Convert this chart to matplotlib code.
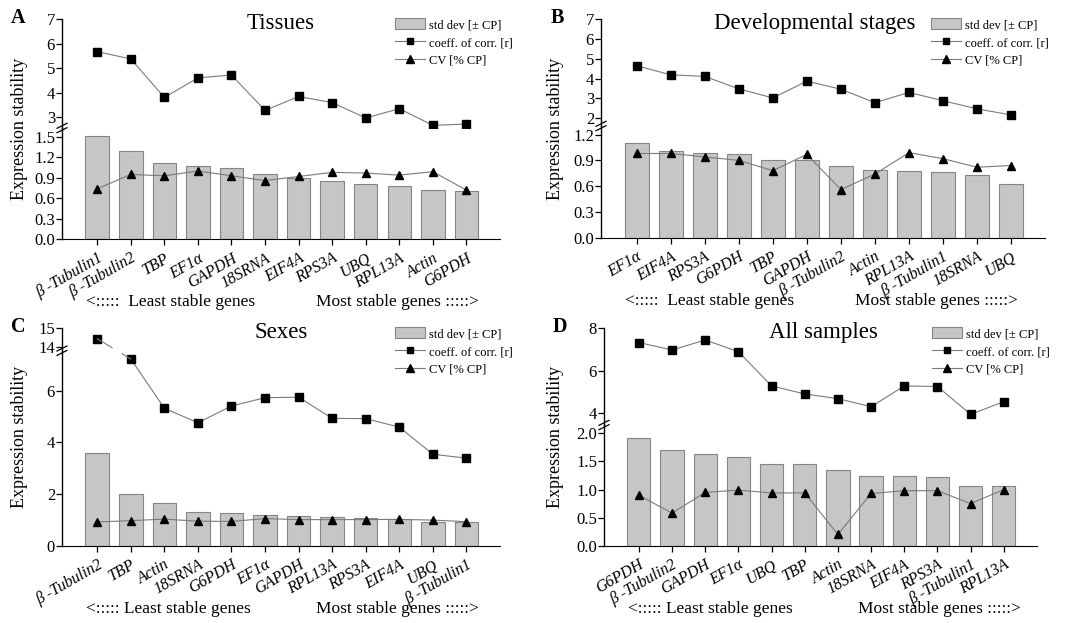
import matplotlib.pyplot as plt
from matplotlib.lines import Line2D
from matplotlib.patches import Patch

plt.rcParams["font.family"] = ["Liberation Serif", "DejaVu Serif"]

W, H = 1080, 623

# A: tissues
genes_a = ["β -Tubulin1", "β -Tubulin2", "TBP", "EF1α", "GAPDH", "18SRNA",
           "EIF4A", "RPS3A", "UBQ", "RPL13A", "Actin", "G6PDH"]
std_a = [1.52, 1.30, 1.12, 1.08, 1.04, 0.96, 0.90, 0.85, 0.81, 0.78, 0.72, 0.71]
corr_a = [5.67, 5.38, 3.80, 4.60, 4.72, 3.27, 3.84, 3.59, 2.96, 3.34, 2.66, 2.71]
cv_a = [0.74, 0.95, 0.93, 1.00, 0.93, 0.86, 0.92, 0.98, 0.97, 0.94, 0.99, 0.72]

# B: developmental stages
genes_b = ["EF1α", "EIF4A", "RPS3A", "G6PDH", "TBP", "GAPDH", "β -Tubulin2",
           "Actin", "RPL13A", "β -Tubulin1", "18SRNA", "UBQ"]
std_b = [1.10, 1.01, 0.98, 0.97, 0.91, 0.90, 0.84, 0.79, 0.78, 0.77, 0.73, 0.63]
corr_b = [4.65, 4.19, 4.11, 3.48, 3.02, 3.87, 3.46, 2.78, 3.30, 2.88, 2.47, 2.16]
cv_b = [0.98, 0.98, 0.94, 0.90, 0.78, 0.97, 0.56, 0.74, 0.99, 0.92, 0.82, 0.84]

# C: sexes
genes_c = ["β -Tubulin2", "TBP", "Actin", "18SRNA", "G6PDH", "EF1α", "GAPDH",
           "RPL13A", "RPS3A", "EIF4A", "UBQ", "β -Tubulin1"]
std_c = [3.60, 2.00, 1.64, 1.29, 1.25, 1.20, 1.14, 1.10, 1.08, 1.02, 0.93, 0.90]
corr_c = [14.44, 7.23, 5.32, 4.76, 5.41, 5.73, 5.75, 4.93, 4.92, 4.59, 3.54, 3.39]
cv_c = [0.92, 0.97, 1.03, 0.95, 0.94, 1.05, 1.01, 1.01, 1.01, 1.02, 0.99, 0.93]

# D: all samples
genes_d = ["G6PDH", "β -Tubulin2", "GAPDH", "EF1α", "UBQ", "TBP", "Actin",
           "18SRNA", "EIF4A", "RPS3A", "β -Tubulin1", "RPL13A"]
std_d = [1.92, 1.70, 1.63, 1.58, 1.45, 1.45, 1.34, 1.25, 1.24, 1.23, 1.06, 1.06]
corr_d = [7.33, 6.98, 7.45, 6.90, 5.29, 4.91, 4.69, 4.31, 5.29, 5.26, 3.95, 4.55]
cv_d = [0.90, 0.58, 0.95, 0.99, 0.94, 0.94, 0.20, 0.93, 0.98, 0.98, 0.75, 1.00]

BAR_FC = "#c6c6c6"
BAR_EC = "#858585"
LINE_C = "#7a7a7a"
MARK = dict(mfc="black", mec="black")


def fx(px):
    return px / W


def fy(py):
    return 1 - py / H


def runs(mask):
    # contiguous index runs where mask is True
    out, cur = [], []
    for i, m in enumerate(mask):
        if m:
            cur.append(i)
        elif cur:
            out.append(cur)
            cur = []
    if cur:
        out.append(cur)
    return out


def panel(fig, box, genes, std, corr, cv, up_lim, low_lim, up_ticks, low_ticks,
          low_fmt, title, title_x, letter, least, legend_x, ylabel_x):
    x0, x1, ytop, ysplit, ybot = box
    ax_up = fig.add_axes([fx(x0), fy(ysplit), (x1 - x0) / W, (ysplit - ytop) / H])
    ax_lo = fig.add_axes([fx(x0), fy(ybot), (x1 - x0) / W, (ybot - ysplit) / H])
    x = list(range(len(genes)))

    for ax in (ax_up, ax_lo):
        ax.set_xlim(-1.05, len(genes))
        for s in ("top", "right"):
            ax.spines[s].set_visible(False)
        ax.spines["left"].set_linewidth(1.0)
        ax.tick_params(axis="y", direction="out", length=4, width=0.9,
                       labelsize=12, pad=1)
        ax.patch.set_alpha(0)

    ax_lo.bar(x, std, width=0.7, color=BAR_FC, edgecolor=BAR_EC, linewidth=0.8, zorder=1)
    ax_lo.plot(x, cv, color=LINE_C, lw=0.8, marker="^", ms=6, zorder=3, **MARK)

    ax_up.set_ylim(*up_lim)
    ax_up.set_yticks(up_ticks)
    ax_up.set_yticklabels([str(t) for t in up_ticks])
    ax_up.spines["bottom"].set_visible(False)
    ax_up.set_xticks([])

    ax_lo.set_ylim(*low_lim)
    ax_lo.set_yticks(low_ticks)
    ax_lo.set_yticklabels([low_fmt.format(t) for t in low_ticks])
    ax_lo.set_xticks(x)
    ax_lo.set_xticklabels(genes, rotation=30, ha="right", va="top",
                          rotation_mode="anchor", style="italic", fontsize=11.5)
    ax_lo.tick_params(axis="x", direction="out", length=4, width=0.9, pad=4)

    # coefficient line: upper points in upper axes, the rest in lower axes
    upper = [c > low_lim[1] for c in corr]
    for ax, mask in ((ax_up, upper), (ax_lo, [not u for u in upper])):
        for r in runs(mask):
            ax.plot(r, [corr[i] for i in r], color=LINE_C, lw=0.8, marker="s",
                    ms=5.5, zorder=3, **MARK)

    # segments crossing the break: straight on screen, with a small gap
    inv = fig.transFigure.inverted()
    ys = fig.transFigure.transform((0, fy(ysplit)))[1]
    for i in range(len(corr) - 1):
        if upper[i] == upper[i + 1]:
            continue
        a_ax = ax_up if upper[i] else ax_lo
        b_ax = ax_up if upper[i + 1] else ax_lo
        p1 = a_ax.transData.transform((i, corr[i]))
        p2 = b_ax.transData.transform((i + 1, corr[i + 1]))
        t_hi = (p1[1] - (ys + 3)) / (p1[1] - p2[1])
        t_lo = (p1[1] - (ys - 3)) / (p1[1] - p2[1])
        for ta, tb in ((0, min(t_hi, t_lo)), (max(t_hi, t_lo), 1)):
            fa = inv.transform(p1 + (p2 - p1) * ta)
            fb = inv.transform(p1 + (p2 - p1) * tb)
            fig.add_artist(Line2D([fa[0], fb[0]], [fa[1], fb[1]],
                                  transform=fig.transFigure, color=LINE_C, lw=0.8,
                                  zorder=2))

    # break marks on the left spine
    for dy in (-2.2, 2.2):
        fig.add_artist(Line2D([fx(x0 - 5), fx(x0 + 5)],
                              [fy(ysplit + dy + 2.5), fy(ysplit + dy - 2.5)],
                              transform=fig.transFigure, color="black", lw=0.9))

    fig.text(fx(title_x), fy(ytop + 4.5), title, ha="center", va="center", fontsize=16.5)
    fig.text(fx(x0 - 44), fy(ytop - 1), letter, ha="center", va="center",
             fontsize=14.5, fontweight="bold")
    fig.text(fx(ylabel_x), fy((ytop + ybot) / 2), "Expression stability",
             rotation=90, ha="center", va="center", fontsize=13)

    lab_y = ybot + 63
    fig.text(fx(x0 + 24), fy(lab_y), least, ha="left", va="center", fontsize=12.5)
    fig.text(fx(x0 + 417), fy(lab_y), "Most stable genes :::::>", ha="right",
             va="center", fontsize=12.5)

    handles = [
        Patch(facecolor=BAR_FC, edgecolor=BAR_EC, linewidth=0.8),
        Line2D([], [], color=LINE_C, lw=0.8, marker="s", ms=5, **MARK),
        Line2D([], [], color=LINE_C, lw=0.8, marker="^", ms=5.5, **MARK),
    ]
    fig.legend(handles, ["std dev [± CP]", "coeff. of corr. [r]", "CV [% CP]"],
               loc="upper left", bbox_to_anchor=(fx(legend_x), fy(ytop - 1)),
               frameon=False, fontsize=9, handlelength=2.4, handleheight=1.0,
               handletextpad=0.35, labelspacing=0.4, borderpad=0, borderaxespad=0)


fig = plt.figure(figsize=(W / 100, H / 100), dpi=100)

panel(fig, (62, 500, 19.3, 128, 239.3), genes_a, std_a, corr_a, cv_a,
      (2.55, 7), (0, 1.63), [3, 4, 5, 6, 7], [0.0, 0.3, 0.6, 0.9, 1.2, 1.5],
      "{:.1f}", "Tissues", 281, "A", "<:::::  Least stable genes", 395, 20)
panel(fig, (601, 1045, 19.3, 126, 237.7), genes_b, std_b, corr_b, cv_b,
      (1.6, 7), (0, 1.3), [2, 3, 4, 5, 6, 7], [0.0, 0.3, 0.6, 0.9, 1.2],
      "{:.1f}", "Developmental stages", 815, "B", "<:::::  Least stable genes", 931, 555)
panel(fig, (62, 500, 328.3, 350.7, 545.7), genes_c, std_c, corr_c, cv_c,
      (13.8, 15), (0, 7.55), [14, 15], [0, 2, 4, 6],
      "{:d}", "Sexes", 281, "C", "<::::: Least stable genes", 395, 20)
panel(fig, (604, 1037, 328.3, 425, 545.7), genes_d, std_d, corr_d, cv_d,
      (3.45, 8), (0, 2.15), [4, 6, 8], [0.0, 0.5, 1.0, 1.5, 2.0],
      "{:.1f}", "All samples", 823, "D", "<::::: Least stable genes", 932, 555)

fig.savefig("out.png", dpi=100)
